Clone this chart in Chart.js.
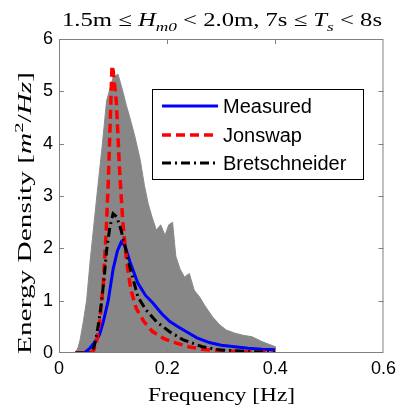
<!DOCTYPE html>
<html>
<head>
<meta charset="utf-8">
<script src="https://cdn.jsdelivr.net/npm/chart.js@4"></script>
<style>
  html, body { margin: 0; padding: 0; background: #fff; }
  canvas { display: block; }
</style>
</head>
<body>
<canvas id="spectrumChart" width="401" height="406"></canvas>
<script>
// x ticks / y ticks
const freqTicks = [0, 0.2, 0.4, 0.6];
const energyTicks = [0, 1, 2, 3, 4, 5, 6];

// upper edge of the cloud of measured spectra (grey)
const cloudFreq = [0.03, 0.035, 0.039, 0.045, 0.051, 0.058, 0.066, 0.072, 0.079, 0.088, 0.1, 0.109, 0.118, 0.124, 0.131, 0.14, 0.15, 0.158, 0.165, 0.172, 0.18, 0.188, 0.196, 0.203, 0.21, 0.216, 0.224, 0.232, 0.241, 0.25, 0.26, 0.27, 0.284, 0.296, 0.309, 0.325, 0.34, 0.357, 0.375, 0.39, 0.4, 0.4];
const cloudEnergy = [0, 0.1, 0.25, 0.6, 1.0, 1.8, 2.6, 3.2, 3.87, 4.82, 5.26, 5.33, 5.0, 4.75, 4.5, 4.15, 3.7, 3.2, 2.85, 2.6, 2.35, 2.45, 2.25, 2.45, 2.5, 1.85, 1.6, 1.45, 1.52, 1.2, 1.07, 0.9, 0.69, 0.55, 0.44, 0.38, 0.34, 0.31, 0.22, 0.16, 0.12, 0];

// mean measured spectrum
const measuredFreq = [0.03, 0.048, 0.057, 0.063, 0.069, 0.075, 0.082, 0.091, 0.1, 0.108, 0.115, 0.122, 0.131, 0.146, 0.16, 0.174, 0.19, 0.205, 0.22, 0.235, 0.255, 0.278, 0.3, 0.325, 0.35, 0.375, 0.4];
const measuredEnergy = [0, 0.01, 0.09, 0.17, 0.25, 0.35, 0.6, 1.0, 1.6, 1.95, 2.12, 2.05, 1.75, 1.33, 1.1, 0.95, 0.75, 0.6, 0.5, 0.41, 0.29, 0.2, 0.15, 0.12, 0.09, 0.07, 0.06];

// Jonswap fit
const jonswapFreq = [0.03, 0.058, 0.064, 0.069, 0.075, 0.082, 0.087, 0.091, 0.094, 0.0965, 0.098, 0.1, 0.103, 0.106, 0.112, 0.118, 0.125, 0.133, 0.143, 0.157, 0.173, 0.195, 0.217, 0.24, 0.265, 0.3, 0.35, 0.4];
const jonswapEnergy = [0, 0, 0.05, 0.19, 0.57, 1.33, 2.28, 3.23, 4.19, 5.0, 5.49, 5.4, 5.1, 4.8, 3.5, 2.5, 1.75, 1.2, 0.85, 0.6, 0.41, 0.27, 0.19, 0.12, 0.07, 0.04, 0.02, 0.01];

// Bretschneider fit
const bretFreq = [0.03, 0.055, 0.06, 0.065, 0.069, 0.074, 0.079, 0.084, 0.088, 0.094, 0.1, 0.107, 0.115, 0.123, 0.131, 0.146, 0.161, 0.18, 0.204, 0.23, 0.265, 0.296, 0.35, 0.4];
const bretEnergy = [0, 0, 0.03, 0.12, 0.31, 0.62, 1.0, 1.5, 1.96, 2.4, 2.66, 2.6, 2.34, 2.0, 1.64, 1.07, 0.82, 0.6, 0.41, 0.25, 0.12, 0.06, 0.03, 0.01];

const toPoints = (xs, ys) => xs.map((x, i) => ({ x: x, y: ys[i] }));

const SERIF = '"Liberation Serif", "DejaVu Serif", serif';
const SANS = '"Liberation Sans", Arial, sans-serif';

// text made of pieces (italic, sub, sup), drawn from x=0 on the current baseline
function richWidth(ctx, segs, size) {
    let w = 0;
    segs.forEach(s => {
        const sz = (s.sub || s.sup) ? size * 0.7 : size;
        ctx.font = (s.it ? 'italic ' : '') + sz + 'px ' + SERIF;
        w += ctx.measureText(s.t).width;
    });
    return w;
}
function drawRich(ctx, segs, size) {
    let x = 0;
    segs.forEach(s => {
        const sz = (s.sub || s.sup) ? size * 0.7 : size;
        ctx.font = (s.it ? 'italic ' : '') + sz + 'px ' + SERIF;
        const dy = s.sub ? size * 0.28 : (s.sup ? -size * 0.42 : 0);
        ctx.fillText(s.t, x, dy);
        x += ctx.measureText(s.t).width;
    });
}
function drawFitted(ctx, segs, size, width, x, y, angle) {
    const sx = width / richWidth(ctx, segs, size);
    ctx.save();
    ctx.translate(x, y);
    if (angle) ctx.rotate(angle);
    ctx.scale(sx, 1);
    ctx.fillStyle = '#000';
    ctx.textBaseline = 'alphabetic';
    ctx.textAlign = 'left';
    drawRich(ctx, segs, size);
    ctx.restore();
}

const titleSegs = [
    { t: '1.5m \u2264 ' }, { t: 'H', it: true }, { t: 'm0', it: true, sub: true },
    { t: ' < 2.0m, 7s \u2264 ' }, { t: 'T', it: true }, { t: 's', it: true, sub: true }, { t: ' < 8s' }
];
const yTitleSegs = [
    { t: 'Energy Density [' }, { t: 'm', it: true }, { t: '2', sup: true },
    { t: '/' }, { t: 'Hz', it: true }, { t: ']' }
];
const xTitleSegs = [{ t: 'Frequency [Hz]' }];

const decorPlugin = {
    id: 'decor',
    afterDraw(chart) {
        const ctx = chart.ctx;
        const a = chart.chartArea;
        const xs = chart.scales.x, ys = chart.scales.y;

        // box and inward ticks
        ctx.save();
        ctx.strokeStyle = '#808080';
        ctx.lineWidth = 1;
        ctx.strokeRect(a.left + 0.5, a.top + 0.5, a.right - a.left - 1, a.bottom - a.top - 1);
        ctx.beginPath();
        freqTicks.slice(1, -1).forEach(v => {
            const px = Math.round(xs.getPixelForValue(v)) + 0.5;
            ctx.moveTo(px, a.bottom); ctx.lineTo(px, a.bottom - 5);
            ctx.moveTo(px, a.top); ctx.lineTo(px, a.top + 5);
        });
        energyTicks.slice(1, -1).forEach(v => {
            const py = Math.round(ys.getPixelForValue(v)) + 0.5;
            ctx.moveTo(a.left, py); ctx.lineTo(a.left + 5, py);
            ctx.moveTo(a.right, py); ctx.lineTo(a.right - 5, py);
        });
        ctx.stroke();
        ctx.restore();

        // legend box
        const lx = 152, ly = 89, lw = 211, lh = 90;
        ctx.save();
        ctx.fillStyle = '#fff';
        ctx.fillRect(lx, ly, lw, lh);
        ctx.strokeStyle = '#000';
        ctx.lineWidth = 1;
        ctx.strokeRect(lx + 0.5, ly + 0.5, lw, lh);
        const rows = [106, 135, 163];
        chart.data.datasets.filter(d => d.inLegend).forEach((d, i) => {
            const y = rows[i];
            ctx.beginPath();
            ctx.strokeStyle = d.borderColor;
            ctx.lineWidth = d.borderWidth;
            ctx.setLineDash(d.borderDash || []);
            ctx.moveTo(162, y); ctx.lineTo(218, y);
            ctx.stroke();
            ctx.setLineDash([]);
            ctx.fillStyle = '#000';
            ctx.font = '20px ' + SANS;
            ctx.textBaseline = 'middle';
            ctx.fillText(d.label, 223, y + 1);
        });
        ctx.restore();

        // titles
        drawFitted(ctx, titleSegs, 19, 320, 62, 26, 0);
        drawFitted(ctx, xTitleSegs, 19, 147, 148, 401, 0);
        drawFitted(ctx, yTitleSegs, 19, 282, 31, 354, -Math.PI / 2);
    }
};

new Chart(document.getElementById('spectrumChart'), {
    type: 'line',
    data: {
        datasets: [
            {
                label: 'Measured',
                inLegend: true,
                data: toPoints(measuredFreq, measuredEnergy),
                borderColor: '#0000ff',
                borderWidth: 3,
                pointRadius: 0,
                fill: false,
                order: 3
            },
            {
                label: 'Jonswap',
                inLegend: true,
                data: toPoints(jonswapFreq, jonswapEnergy),
                borderColor: '#ff0000',
                borderWidth: 3.5,
                borderDash: [9, 5],
                pointRadius: 0,
                fill: false,
                order: 2
            },
            {
                label: 'Bretschneider',
                inLegend: true,
                data: toPoints(bretFreq, bretEnergy),
                borderColor: '#000000',
                borderWidth: 3,
                borderDash: [9, 4, 2, 4],
                pointRadius: 0,
                fill: false,
                order: 1
            },
            {
                label: 'Measured spectra',
                data: toPoints(cloudFreq, cloudEnergy),
                borderColor: '#8a8a8a',
                backgroundColor: '#878787',
                borderWidth: 1,
                pointRadius: 0,
                fill: 'origin',
                order: 10
            }
        ]
    },
    options: {
        responsive: false,
        animation: false,
        devicePixelRatio: 1,
        layout: { padding: { top: 39, right: 16, left: 0, bottom: 0 } },
        plugins: {
            legend: { display: false },
            tooltip: { enabled: false }
        },
        scales: {
            x: {
                type: 'linear',
                min: 0,
                max: 0.6,
                afterFit: s => { s.height = 53; },
                afterBuildTicks: s => { s.ticks = freqTicks.map(v => ({ value: v })); },
                grid: { display: false, drawTicks: false },
                border: { display: false },
                ticks: {
                    padding: 5,
                    color: '#000',
                    font: { family: SANS, size: 18 },
                    callback: v => (v === 0 ? '0' : v.toFixed(1))
                }
            },
            y: {
                type: 'linear',
                min: 0,
                max: 6,
                afterFit: s => { s.width = 59; },
                afterBuildTicks: s => { s.ticks = energyTicks.map(v => ({ value: v })); },
                grid: { display: false, drawTicks: false },
                border: { display: false },
                ticks: {
                    padding: 6,
                    color: '#000',
                    font: { family: SANS, size: 18 }
                }
            }
        }
    },
    plugins: [decorPlugin]
});
</script>
</body>
</html>
